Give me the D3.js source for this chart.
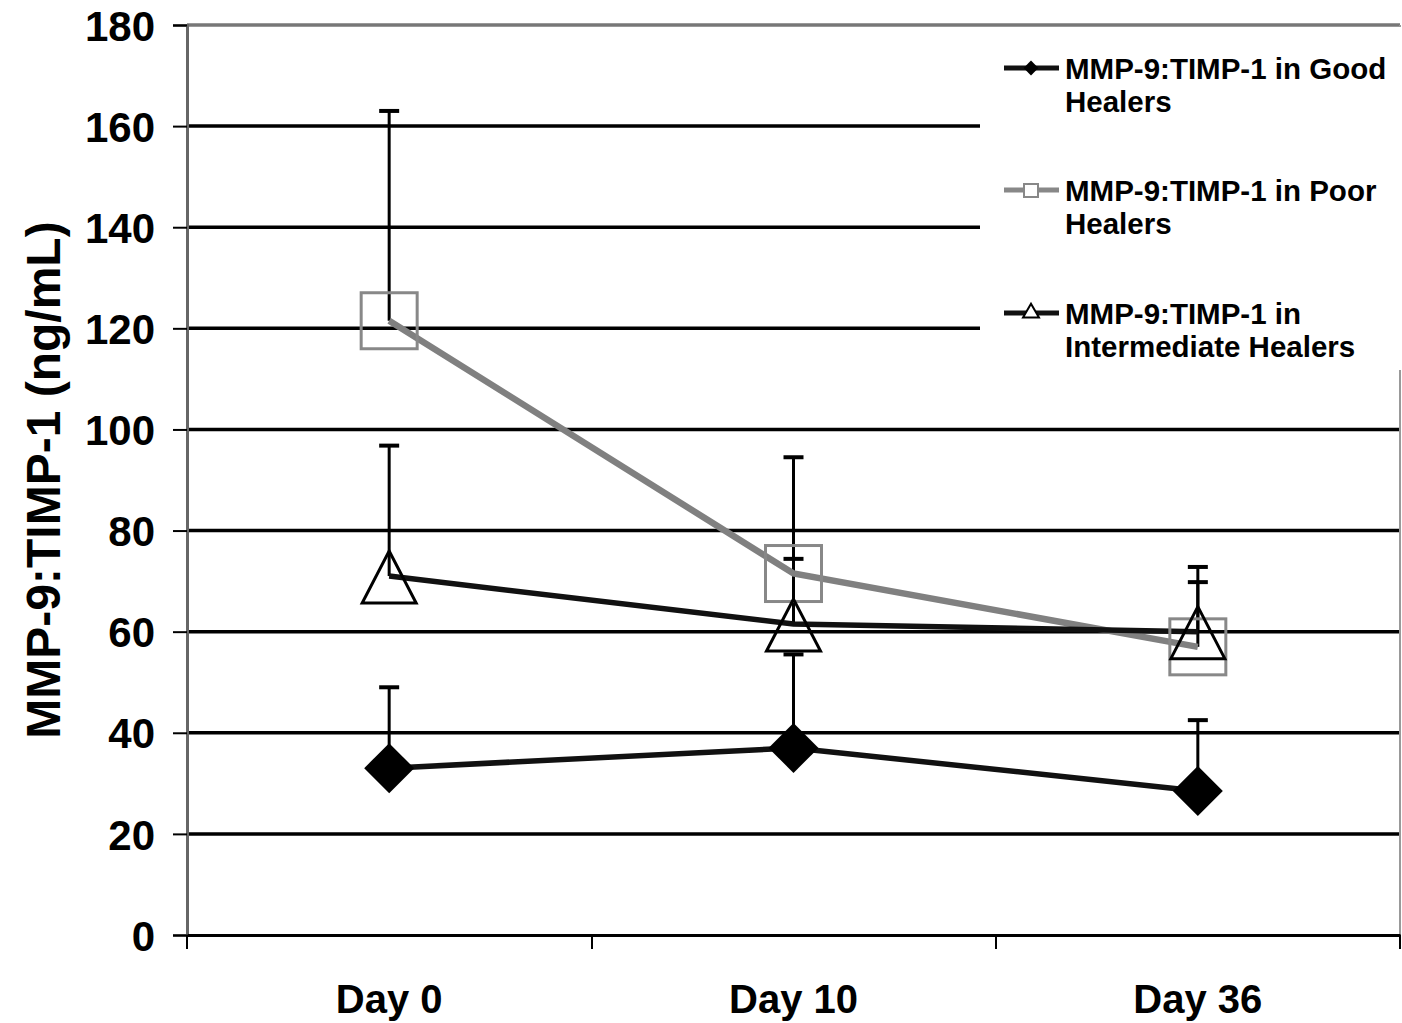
<!DOCTYPE html>
<html>
<head>
<meta charset="utf-8">
<script src="https://cdn.jsdelivr.net/npm/d3@7"></script>
<style>
  body { margin: 0; background: #fff; }
  text { font-family: "Liberation Sans", Arial, sans-serif; font-weight: bold; fill: #000; }
</style>
</head>
<body>
<script>
// data
const days = ["Day 0", "Day 10", "Day 36"]
const good = [33, 37, 28.5]
const goodSD = [16, 18.5, 14]
const poor = [121.5, 71.5, 57]
const poorSD = [41.5, 23, 15.8]
const inter = [71, 61.5, 60]
const interSD = [25.8, 12.9, 9.8]
const yTicks = [0, 20, 40, 60, 80, 100, 120, 140, 160, 180]

const W = 1402, H = 1023
const svg = d3.select("body").append("svg").attr("width", W).attr("height", H)

const x = d3.scaleBand().domain(days).range([187, 1400])
const y = d3.scaleLinear().domain([0, 180]).range([935, 25])
const cx = d => x(d) + x.bandwidth() / 2

// grid lines
svg.selectAll(".grid").data(yTicks.filter(t => t > 0)).enter().append("line")
  .attr("x1", 187).attr("x2", 1400)
  .attr("y1", d => y(d)).attr("y2", d => y(d))
  .attr("stroke", d => d == 180 ? "#777" : "#000")
  .attr("stroke-width", 3.5)

// right border
svg.append("line").attr("x1", 1400).attr("x2", 1400).attr("y1", y(180)).attr("y2", y(0))
  .attr("stroke", "#999").attr("stroke-width", 2)

// y axis
const yAxis = svg.append("g").attr("transform", "translate(187,0)")
  .call(d3.axisLeft(y).tickValues(yTicks).tickSize(14).tickPadding(18))
yAxis.select(".domain").attr("stroke", "#666").attr("stroke-width", 3)
yAxis.selectAll(".tick line").attr("stroke", "#000").attr("stroke-width", 2)
yAxis.selectAll(".tick text").style("font-size", "42px").attr("dy", "0.36em")

// x axis
const xAxis = svg.append("g").attr("transform", "translate(0,935)")
  .call(d3.axisBottom(x).tickSize(0).tickPadding(0))
xAxis.select(".domain").attr("stroke", "#000").attr("stroke-width", 3)
xAxis.selectAll(".tick text").style("font-size", "40px").attr("y", 78).attr("dy", 0)
svg.selectAll(".xtick").data([187, 592, 996, 1400]).enter().append("line")
  .attr("x1", d => d).attr("x2", d => d).attr("y1", 935).attr("y2", 949)
  .attr("stroke", "#000").attr("stroke-width", 2)

// y title
svg.append("text")
  .attr("transform", "translate(60,480) rotate(-90)")
  .attr("text-anchor", "middle")
  .style("font-size", "48px")
  .text("MMP-9:TIMP-1 (ng/mL)")

// error bars (upper only)
function errBars(vals, sds) {
  const g = svg.append("g")
  days.forEach((d, i) => {
    g.append("line").attr("x1", cx(d)).attr("x2", cx(d))
      .attr("y1", y(vals[i])).attr("y2", y(vals[i] + sds[i]))
      .attr("stroke", "#000").attr("stroke-width", 3)
    g.append("line").attr("x1", cx(d) - 10).attr("x2", cx(d) + 10)
      .attr("y1", y(vals[i] + sds[i])).attr("y2", y(vals[i] + sds[i]))
      .attr("stroke", "#000").attr("stroke-width", 4)
  })
}
errBars(poor, poorSD)
errBars(inter, interSD)
errBars(good, goodSD)

const line = d3.line().x((v, i) => cx(days[i])).y(v => y(v))

function series(vals, color, width) {
  svg.append("path").datum(vals).attr("d", line)
    .attr("fill", "none").attr("stroke", color).attr("stroke-width", width)
}
series(poor, "#808080", 6.5)
series(inter, "#111", 5.5)
series(good, "#111", 5.5)

// markers
svg.selectAll(".sq").data(poor).enter().append("rect")
  .attr("x", (v, i) => cx(days[i]) - 28).attr("y", v => y(v) - 28)
  .attr("width", 56).attr("height", 56)
  .attr("fill", "none").attr("stroke", "#888").attr("stroke-width", 3)

svg.selectAll(".tri").data(inter).enter().append("path")
  .attr("d", "M0,-26L27,26L-27,26Z")
  .attr("transform", (v, i) => `translate(${cx(days[i])},${y(v) + 1})`)
  .attr("fill", "none").attr("stroke", "#000").attr("stroke-width", 3)

const dia = d3.symbol().type(d3.symbolSquare).size(1250)
svg.selectAll(".dia").data(good).enter().append("path")
  .attr("d", dia)
  .attr("transform", (v, i) => `translate(${cx(days[i])},${y(v)}) rotate(45)`)
  .attr("fill", "#000")

// legend
svg.append("rect").attr("x", 980).attr("y", 27).attr("width", 422).attr("height", 343).attr("fill", "#fff")

const legendItems = [
  { l1: "MMP-9:TIMP-1 in Good", l2: "Healers", y: 68, color: "#111", mark: "dia" },
  { l1: "MMP-9:TIMP-1 in Poor", l2: "Healers", y: 190, color: "#888", mark: "sq" },
  { l1: "MMP-9:TIMP-1 in", l2: "Intermediate Healers", y: 313, color: "#111", mark: "tri" }
]
legendItems.forEach(it => {
  const g = svg.append("g")
  g.append("line").attr("x1", 1004).attr("x2", 1059).attr("y1", it.y).attr("y2", it.y)
    .attr("stroke", it.color).attr("stroke-width", 5)
  if (it.mark == "dia") {
    g.append("path").attr("d", d3.symbol().type(d3.symbolSquare).size(110))
      .attr("transform", `translate(1031,${it.y}) rotate(45)`).attr("fill", "#000")
  } else if (it.mark == "sq") {
    g.append("rect").attr("x", 1024).attr("y", it.y - 6).attr("width", 14).attr("height", 13)
      .attr("fill", "#fff").attr("stroke", "#888").attr("stroke-width", 2)
  } else {
    g.append("path").attr("d", d3.symbol().type(d3.symbolTriangle).size(110))
      .attr("transform", `translate(1031,${it.y})`).attr("fill", "#fff").attr("stroke", "#000").attr("stroke-width", 2)
  }
  g.append("text").attr("x", 1065).attr("y", it.y + 11).style("font-size", "29.5px").text(it.l1)
  g.append("text").attr("x", 1065).attr("y", it.y + 44).style("font-size", "29.5px").text(it.l2)
})
</script>
</body>
</html>
